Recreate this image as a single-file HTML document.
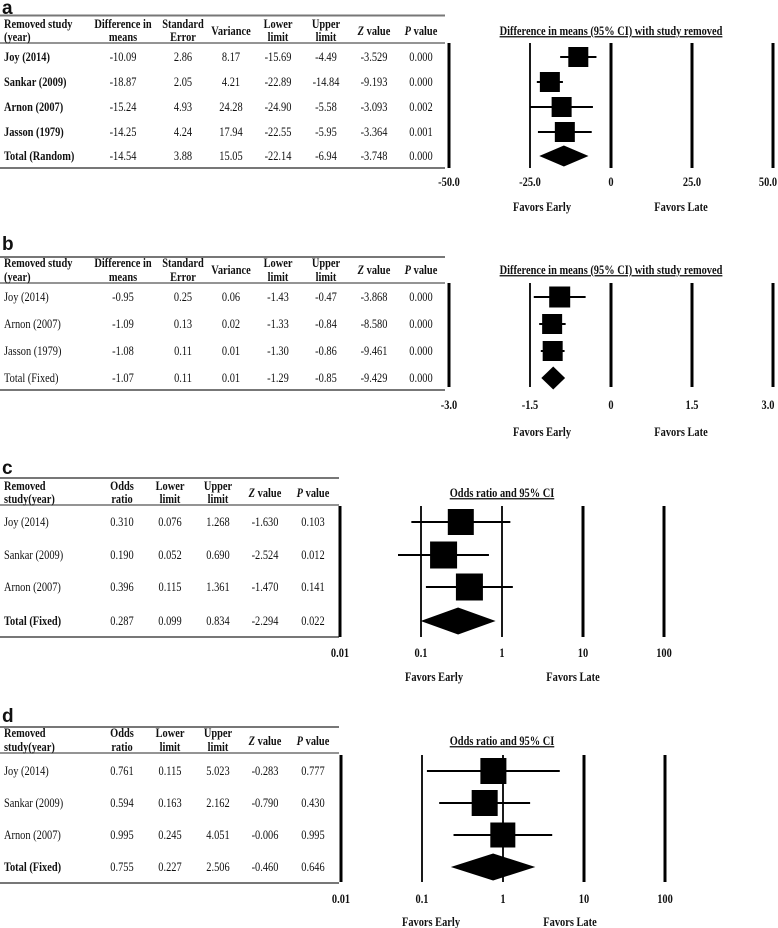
<!DOCTYPE html>
<html><head><meta charset="utf-8">
<style>
html,body{margin:0;padding:0;background:#fff;}
svg{display:block;}
text{font-family:"Liberation Serif",serif;font-size:13px;fill:#111;}
.lbl{font-family:"Liberation Sans",sans-serif;font-size:19px;font-weight:bold;}
</style></head>
<body>
<svg id="fig" width="778" height="928" viewBox="0 0 778 928" xmlns="http://www.w3.org/2000/svg"></svg>
<script>
// ---- Panel a data ----
const aStudies = ["Joy (2014)","Sankar (2009)","Arnon (2007)","Jasson (1979)","Total (Random)"];
const aMeans = [-10.09,-18.87,-15.24,-14.25,-14.54];
const aSE = ["2.86","2.05","4.93","4.24","3.88"];
const aVar = ["8.17","4.21","24.28","17.94","15.05"];
const aLower = [-15.69,-22.89,-24.90,-22.55,-22.14];
const aUpper = [-4.49,-14.84,-5.58,-5.95,-6.94];
const aZ = ["-3.529","-9.193","-3.093","-3.364","-3.748"];
const aP = ["0.000","0.000","0.002","0.001","0.000"];
const aTicks = [-50,-25,0,25,50];
const aTickLabels = ["-50.0","-25.0","0","25.0","50.0"];
// ---- Panel b data ----
const bStudies = ["Joy (2014)","Arnon (2007)","Jasson (1979)","Total (Fixed)"];
const bMeans = [-0.95,-1.09,-1.08,-1.07];
const bSE = ["0.25","0.13","0.11","0.11"];
const bVar = ["0.06","0.02","0.01","0.01"];
const bLower = [-1.43,-1.33,-1.30,-1.29];
const bUpper = [-0.47,-0.84,-0.86,-0.85];
const bZ = ["-3.868","-8.580","-9.461","-9.429"];
const bP = ["0.000","0.000","0.000","0.000"];
const bTicks = [-3,-1.5,0,1.5,3];
const bTickLabels = ["-3.0","-1.5","0","1.5","3.0"];
// ---- Panel c data ----
const cStudies = ["Joy (2014)","Sankar (2009)","Arnon (2007)","Total (Fixed)"];
const cOR = [0.310,0.190,0.396,0.287];
const cLower = [0.076,0.052,0.115,0.099];
const cUpper = [1.268,0.690,1.361,0.834];
const cZ = ["-1.630","-2.524","-1.470","-2.294"];
const cP = ["0.103","0.012","0.141","0.022"];
// ---- Panel d data ----
const dStudies = ["Joy (2014)","Sankar (2009)","Arnon (2007)","Total (Fixed)"];
const dOR = [0.761,0.594,0.995,0.755];
const dLower = [0.115,0.163,0.245,0.227];
const dUpper = [5.023,2.162,4.051,2.506];
const dZ = ["-0.283","-0.790","-0.006","-0.460"];
const dP = ["0.777","0.430","0.995","0.646"];
const orTicks = [0.01,0.1,1,10,100];
const orTickLabels = ["0.01","0.1","1","10","100"];

const NS = "http://www.w3.org/2000/svg";
const svg = document.getElementById("fig");
function el(tag, attrs, parent){
  const e = document.createElementNS(NS, tag);
  for (const k in attrs) e.setAttribute(k, attrs[k]);
  (parent||svg).appendChild(e);
  return e;
}
function txt(x,y,s,anchor,bold,sx,parent){
  const t = el("text",{transform:`translate(${x},${y}) scale(${sx||0.78},1)`,"text-anchor":anchor||"middle","font-weight":bold?"bold":"normal"},parent);
  t.textContent = s;
  return t;
}
function fmt(v,d){ return v.toFixed(d); }

function panel(cfg){
  const g = el("g",{});
  
  
  const lab = el("text",{x:2,y:cfg.labelY,class:"lbl"},g);
  lab.textContent = cfg.letter;
  
  
  const top = el("line",{x1:0,x2:cfg.tableW,y1:cfg.topY,y2:cfg.topY,stroke:"#777","stroke-width":2},g);
  
  
  const r = el("line",{x1:0,x2:cfg.tableW,y1:cfg.ruleY,y2:cfg.ruleY,stroke:"#555","stroke-width":1.2},g);
  
  
  const bot = el("line",{x1:0,x2:cfg.tableW,y1:cfg.botY,y2:cfg.botY,stroke:"#777","stroke-width":2},g);
  
  
  const hg = el("g",{},g);
  
  
  cfg.headers.forEach((h,i)=>{
    const x = cfg.cols[i], anc = i===0?"start":"middle";
    if (h.length===2){
      txt(x,cfg.h1Y,h[0],anc,true,0.8,hg);
      txt(x,cfg.h2Y,h[1],anc,true,0.8,hg);
    } else {
      const t = txt(x,cfg.hMidY,"",anc,true,0.8,hg);
      if (h[0].startsWith("Z ")||h[0].startsWith("P ")){
        const a = el("tspan",{"font-style":"italic"},t); a.textContent = h[0][0];
        const b = el("tspan",{},t); b.textContent = h[0].slice(1);
      } else t.textContent = h[0];
    }
  });
  cfg.rows.forEach((row,ri)=>{
    const rg = el("g",{},g);
    
    
    row.forEach((s,i)=>{
      txt(cfg.cols[i],cfg.rowY[ri]+4,s,i===0?"start":"middle",i===0&&cfg.boldRow(ri),0.8,rg);
    });
  });
  const pg = el("g",{},g);
  
  
  const title = txt(cfg.titleX,cfg.titleY,cfg.title,"middle",true,0.8,pg);
  title.setAttribute("text-decoration","underline");
  
  
  cfg.ticks.forEach((tv,i)=>{
    const x = Math.min(cfg.xs(tv),776.5);
    const ln = el("line",{x1:x,x2:x,y1:cfg.lineY0,y2:cfg.lineY1,stroke:"#000","stroke-width":cfg.thin.includes(i)?1.8:3},pg);
    
    
    const tl = txt(Math.min(cfg.xs(tv),768),cfg.tickY,cfg.tickLabels[i],"middle",true,0.8,pg);
    
    
  });
  const fe = txt(cfg.favX[0],cfg.favY,"Favors Early","middle",true,0.8,pg);
  
  
  const fl = txt(cfg.favX[1],cfg.favY,"Favors Late","middle",true,0.8,pg);
  
  
  const n = cfg.est.length;
  for (let i=0;i<n;i++){
    const y = cfg.rowY[i];
    const xm = cfg.xs(cfg.est[i]), xl = cfg.xs(cfg.lo[i]), xu = cfg.xs(cfg.hi[i]);
    if (i<n-1){
      const ci = el("line",{x1:xl,x2:xu,y1:y,y2:y,stroke:"#000","stroke-width":2},pg);
      
      
      const s = cfg.box[i];
      const bx = el("rect",{x:xm-s/2,y:y-s/2,width:s,height:s,fill:"#000"},pg);
      
      
    } else {
      const h = cfg.dh/2;
      const d = el("polygon",{points:`${xl},${y} ${xm},${y-h} ${xu},${y} ${xm},${y+h}`,fill:"#000"},pg);
      
      
    }
  }
}

const mdCols = [4,123,183,231,278,326,374,421];
const mdHeaders = [["Removed study","(year)"],["Difference in","means"],["Standard","Error"],["Variance"],["Lower","limit"],["Upper","limit"],["Z value"],["P value"]];
const orCols = [4,122,170,218,265,313];
const orHeaders = [["Removed","study(year)"],["Odds","ratio"],["Lower","limit"],["Upper","limit"],["Z value"],["P value"]];

panel({name:"panel-a",letter:"a",labelY:14,tableW:445,topY:15.5,ruleY:43,botY:168,
  h1Y:28,h2Y:41,hMidY:35,cols:mdCols,headers:mdHeaders,
  rows:aStudies.map((s,i)=>[s,fmt(aMeans[i],2),aSE[i],aVar[i],fmt(aLower[i],2),fmt(aUpper[i],2),aZ[i],aP[i]]),
  rowY:[57,82,107,132,156],boldRow:()=>true,
  title:"Difference in means (95% CI) with study removed",titleX:611,titleY:35,
  xs:v=>611+v*81/25,ticks:aTicks,tickLabels:aTickLabels,thin:[1],lineY0:43,lineY1:168,tickY:186,
  favX:[542,681],favY:211,est:aMeans,lo:aLower,hi:aUpper,box:[20,20,20,20],dh:21});

panel({name:"panel-b",letter:"b",labelY:250,tableW:445,topY:257,ruleY:283,botY:390,
  h1Y:267,h2Y:281,hMidY:274,cols:mdCols,headers:mdHeaders,
  rows:bStudies.map((s,i)=>[s,fmt(bMeans[i],2),bSE[i],bVar[i],fmt(bLower[i],2),fmt(bUpper[i],2),bZ[i],bP[i]]),
  rowY:[297,324,351,378],boldRow:()=>false,
  title:"Difference in means (95% CI) with study removed",titleX:611,titleY:274,
  xs:v=>611+v*81/1.5,ticks:bTicks,tickLabels:bTickLabels,thin:[1],lineY0:283,lineY1:387,tickY:409,
  favX:[542,681],favY:436,est:bMeans,lo:bLower,hi:bUpper,box:[21,20,20],dh:23});

panel({name:"panel-c",letter:"c",labelY:474,tableW:339,topY:478,ruleY:505,botY:637,
  h1Y:490,h2Y:503,hMidY:497,cols:orCols,headers:orHeaders,
  rows:cStudies.map((s,i)=>[s,fmt(cOR[i],3),fmt(cLower[i],3),fmt(cUpper[i],3),cZ[i],cP[i]]),
  rowY:[522,555,587,621],boldRow:r=>r===3,
  title:"Odds ratio and 95% CI",titleX:502,titleY:497,
  xs:v=>502+81*Math.log10(v),ticks:orTicks,tickLabels:orTickLabels,thin:[1,2],lineY0:506,lineY1:637,tickY:657,
  favX:[434,573],favY:681,est:cOR,lo:cLower,hi:cUpper,box:[26,27,27],dh:27});

panel({name:"panel-d",letter:"d",labelY:722,tableW:339,topY:727,ruleY:753,botY:883,
  h1Y:737,h2Y:751,hMidY:745,cols:orCols,headers:orHeaders,
  rows:dStudies.map((s,i)=>[s,fmt(dOR[i],3),fmt(dLower[i],3),fmt(dUpper[i],3),dZ[i],dP[i]]),
  rowY:[771,803,835,867],boldRow:r=>r===3,
  title:"Odds ratio and 95% CI",titleX:502,titleY:745,
  xs:v=>503+81*Math.log10(v),ticks:orTicks,tickLabels:orTickLabels,thin:[1,2],lineY0:755,lineY1:882,tickY:903,
  favX:[431,570],favY:926,est:dOR,lo:dLower,hi:dUpper,box:[26,26,25],dh:27});
</script>
</body></html>
